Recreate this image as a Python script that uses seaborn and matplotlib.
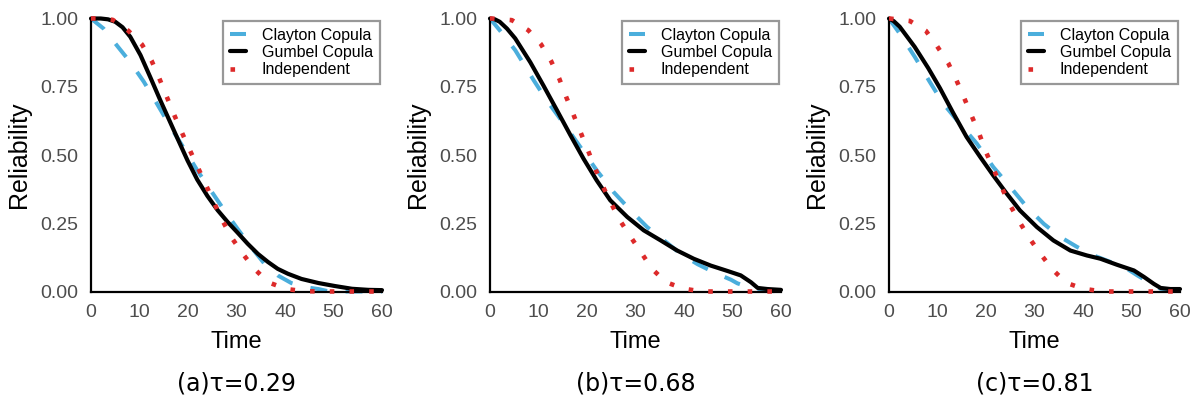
import numpy as np
import pandas as pd
import matplotlib
matplotlib.use("Agg")
import matplotlib.pyplot as plt
import seaborn as sns

# ---------------- data ----------------
captions = ["(a)τ=0.29", "(b)τ=0.68", "(c)τ=0.81"]
series_names = ["Clayton Copula", "Gumbel Copula", "Independent"]
x_ticks = [0, 10, 20, 30, 40, 50, 60]
y_ticks = [0.00, 0.25, 0.50, 0.75, 1.00]

# panel (a)
t_clay_a = [0, 2.6, 5.3, 8.1, 10.9, 13.6, 16.4, 19.2, 21.9, 24.7, 27.5, 30.2, 33.0, 35.8, 38.5, 41.3, 44.1, 46.9, 48.9, 52, 56, 60]
r_clay_a = [1.0, 0.963, 0.902, 0.84, 0.768, 0.688, 0.603, 0.523, 0.444, 0.37, 0.297, 0.23, 0.163, 0.101, 0.059, 0.031, 0.016, 0.009, 0.001, 0.0, 0.0, 0.0]
t_gum_a = [0, 2, 3.5, 5, 6.5, 8.1, 10.2, 12.2, 14.3, 15.7, 17.8, 19.9, 21.9, 24.0, 26.1, 28.2, 30.2, 32.3, 34.4, 36.5, 38.5, 40.6, 43.4, 46.9, 50.3, 53.8, 57.2, 60]
r_gum_a = [1.0, 1.0, 0.997, 0.988, 0.968, 0.933, 0.866, 0.786, 0.70, 0.645, 0.562, 0.48, 0.41, 0.35, 0.298, 0.254, 0.216, 0.175, 0.138, 0.108, 0.083, 0.065, 0.046, 0.031, 0.02, 0.01, 0.006, 0.005]
t_ind_a = [0, 2, 4.5, 7.7, 10.5, 12.5, 14.1, 15.7, 17.2, 18.8, 20.4, 22.0, 23.7, 25.4, 27.1, 29.0, 31.3, 33.7, 36.5, 40.3, 44.0, 50, 55, 60]
r_ind_a = [1.0, 1.0, 0.995, 0.955, 0.905, 0.845, 0.78, 0.71, 0.645, 0.58, 0.517, 0.456, 0.39, 0.324, 0.26, 0.197, 0.138, 0.083, 0.034, 0.009, 0.001, 0.0, 0.0, 0.0]

# panel (b)
t_clay_b = [0, 2.0, 5.2, 9.0, 11.7, 15.2, 18.6, 22.0, 25.5, 29.0, 32.4, 35.9, 39.3, 42.8, 46.2, 49.7, 51.0, 53.5, 55.9, 60]
r_clay_b = [1.0, 0.957, 0.884, 0.774, 0.70, 0.615, 0.53, 0.444, 0.364, 0.297, 0.236, 0.187, 0.138, 0.10, 0.07, 0.043, 0.03, 0.015, 0.004, 0.0]
t_gum_b = [0, 1.0, 2.0, 3.5, 5.2, 8.3, 11.0, 13.8, 16.6, 19.3, 22.0, 24.8, 28.3, 31.7, 35.2, 38.6, 42.0, 45.5, 49.0, 51.7, 53.8, 55.2, 57.2, 60]
r_gum_b = [1.0, 0.997, 0.988, 0.963, 0.927, 0.84, 0.755, 0.664, 0.572, 0.486, 0.407, 0.334, 0.273, 0.224, 0.187, 0.15, 0.12, 0.095, 0.075, 0.059, 0.034, 0.013, 0.009, 0.006]
t_ind_b = [0, 0.3, 4.5, 7.9, 10.5, 12.6, 14.3, 15.7, 17.2, 18.7, 20.2, 21.7, 23.2, 25.0, 26.8, 29.0, 31.2, 33.4, 36.3, 40.0, 43.8, 50, 55, 60]
r_ind_b = [1.0, 1.0, 0.994, 0.957, 0.906, 0.844, 0.779, 0.713, 0.648, 0.582, 0.517, 0.45, 0.388, 0.322, 0.26, 0.20, 0.142, 0.083, 0.034, 0.01, 0.0, 0.0, 0.0, 0.0]

# panel (c)
t_clay_c = [0, 2.2, 5.3, 8.4, 11.2, 14.6, 18.1, 21.5, 25.0, 28.4, 31.9, 35.3, 38.8, 42.2, 45.7, 49.1, 51.2, 53.5, 56.0, 60]
r_clay_c = [1.0, 0.945, 0.86, 0.768, 0.688, 0.615, 0.542, 0.456, 0.383, 0.31, 0.248, 0.20, 0.163, 0.132, 0.108, 0.083, 0.059, 0.035, 0.01, 0.005]
t_gum_c = [0, 1.0, 2.2, 5.3, 8.1, 10.5, 13.2, 16.0, 18.8, 21.5, 24.3, 27.0, 30.5, 33.9, 37.4, 40.8, 43.6, 47.0, 50.5, 52.6, 54.6, 56.0, 58.0, 60]
r_gum_c = [1.0, 0.99, 0.97, 0.896, 0.818, 0.745, 0.655, 0.566, 0.493, 0.425, 0.358, 0.297, 0.236, 0.187, 0.15, 0.132, 0.12, 0.098, 0.077, 0.053, 0.028, 0.013, 0.009, 0.009]
t_ind_c = [0, 0.1, 4.3, 7.6, 9.9, 12.2, 13.9, 15.5, 17.0, 18.6, 19.9, 21.5, 23.1, 24.8, 26.8, 29.0, 31.3, 33.7, 36.5, 40.1, 44.0, 50, 55, 60]
r_ind_c = [1.0, 1.0, 0.991, 0.955, 0.899, 0.837, 0.774, 0.709, 0.645, 0.578, 0.515, 0.45, 0.386, 0.322, 0.258, 0.194, 0.136, 0.081, 0.032, 0.01, 0.0, 0.0, 0.0, 0.0]

panels = [
    [(t_clay_a, r_clay_a), (t_gum_a, r_gum_a), (t_ind_a, r_ind_a)],
    [(t_clay_b, r_clay_b), (t_gum_b, r_gum_b), (t_ind_b, r_ind_b)],
    [(t_clay_c, r_clay_c), (t_gum_c, r_gum_c), (t_ind_c, r_ind_c)],
]

# ---------------- style ----------------
sns.set_theme(style="white")
plt.rcParams["font.family"] = ["Liberation Sans", "DejaVu Sans"]

colors = ["#4BAEDC", "#000000", "#DD2A2A"]
widths = [2.9, 3.0, 3.3]
styles = [(0, (4.2, 4.6)), "-", (0, (1.0, 3.3))]
zorders = [2, 3, 4]

fig = plt.figure(figsize=(11.97, 4.05), dpi=100)
lefts = [91 / 1197, 490 / 1197, 889 / 1197]
W = 291 / 1197
B = 1 - 291.5 / 405
H = 273 / 405

for i, (left, pdata) in enumerate(zip(lefts, panels)):
    ax = fig.add_axes([left, B, W, H])
    for j, (tt, rr) in enumerate(pdata):
        df = pd.DataFrame({"Time": tt, "Reliability": rr})
        sns.lineplot(data=df, x="Time", y="Reliability", ax=ax, color=colors[j],
                     linewidth=widths[j], linestyle=styles[j], label=series_names[j],
                     zorder=zorders[j], clip_on=False, estimator=None)
    ax.set_xlim(0, 60)
    ax.set_ylim(0, 1.0)
    ax.set_xticks(x_ticks)
    ax.set_yticks(y_ticks)
    ax.set_yticklabels([f"{v:.2f}" for v in y_ticks])
    ax.tick_params(axis="both", length=0, labelsize=14, labelcolor="#4d4d4d", pad=9)
    for s in ["top", "right"]:
        ax.spines[s].set_visible(False)
    for s in ["left", "bottom"]:
        ax.spines[s].set_color("black")
        ax.spines[s].set_linewidth(1.6)
    ax.set_xlabel("Time", fontsize=17, color="black")
    ax.set_ylabel("Reliability", fontsize=18, color="black")
    ax.xaxis.set_label_coords(0.5, -0.145)
    ax.yaxis.set_label_coords(-0.205, 0.5)
    leg = ax.legend(loc="upper right", bbox_to_anchor=(1.0, 1.0), fontsize=11.5,
                    handlelength=1.0, handletextpad=1.0, labelspacing=0.15,
                    borderpad=0.42, borderaxespad=0.15, fancybox=False, frameon=True)
    leg.get_frame().set_edgecolor("#7f7f7f")
    leg.get_frame().set_linewidth(1.6)
    for txt in leg.get_texts():
        txt.set_color("black")
    fig.text(left + W / 2, 1 - 383 / 405, captions[i], ha="center", va="center",
             fontsize=17, color="black", family=["DejaVu Sans"])

fig.savefig("out.png", dpi=100)
